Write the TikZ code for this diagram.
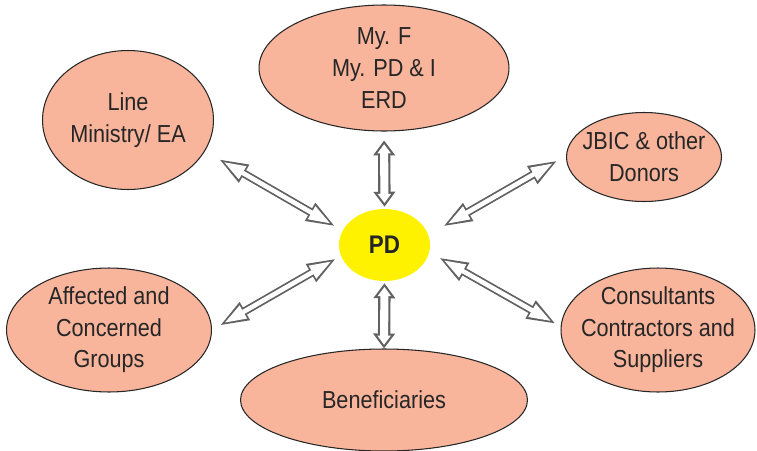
\documentclass[tikz,border=0pt]{standalone}
\usepackage{fontspec}
\setmainfont[FakeStretch=0.88]{Liberation Sans}
\usetikzlibrary{shapes.geometric,arrows.meta}

\definecolor{salmon}{HTML}{F9B59C}
\definecolor{pdyellow}{HTML}{FFF200}

\tikzset{
  party/.style={ellipse, draw=black!85, line width=0.6pt, fill=salmon, inner sep=-2cm,
    align=center, text=black!85, font=\fontsize{14}{18}\selectfont},
  hub/.style={ellipse, fill=pdyellow, inner sep=-2cm, text=black!85,
    font=\fontsize{14.5}{18}\selectfont\bfseries},
  diagout/.style={line width=4.6pt, black!62,
    {Triangle[length=17pt,width=10.5pt]}-{Triangle[length=17pt,width=10.5pt]}},
  diagin/.style={line width=2.6pt, white,
    {Triangle[length=12.6pt,width=7.8pt]}-{Triangle[length=12.6pt,width=7.8pt]}},
  vertout/.style={line width=7pt, black!62,
    {Triangle[length=8.5pt,width=12pt]}-{Triangle[length=8.5pt,width=12pt]}},
  vertin/.style={line width=4.6pt, white,
    {Triangle[length=5.2pt,width=7.3pt]}-{Triangle[length=5.2pt,width=7.3pt]}},
}

\begin{document}
\begin{tikzpicture}[x=0.02cm, y=-0.02cm]
\useasboundingbox (0,0) rectangle (757,450);

% the parties round the PD
\node[party, minimum width=5cm, minimum height=2.52cm] (myf) at (384,68) {My. F\\My. PD \& I\\ERD};
\node[party, minimum width=3.42cm, minimum height=2.78cm] (line) at (128,120) {Line\\Ministry/ EA};
\node[party, minimum width=3.1cm, minimum height=1.78cm] (jbic) at (644,157) {JBIC \& other\\Donors};
\node[party, minimum width=4.1cm, minimum height=2.48cm] (affected) at (109,330) {Affected and\\Concerned\\Groups};
\node[party, minimum width=3.88cm, minimum height=2.48cm] (consult) at (658,330) {Consultants\\Contractors and\\Suppliers};
\node[party, minimum width=5.74cm, minimum height=2.04cm] (benef) at (384,400) {Beneficiaries};

\node[hub, minimum width=1.82cm, minimum height=1.44cm] (pd) at (384.5,245) {PD};

% links
\draw[vertout, shorten <=5.1pt, shorten >=1.1pt] (myf.south) -- (pd.north);
\draw[vertin, shorten <=7.2pt, shorten >=3.2pt] (myf.south) -- (pd.north);
\draw[vertout, shorten <=1.1pt, shorten >=0pt] (pd.south) -- (benef.north);
\draw[vertin, shorten <=3.2pt, shorten >=2.1pt] (pd.south) -- (benef.north);

\draw[diagout, shorten <=8.7pt, shorten >=4.3pt] (line.-22) -- (pd.161);
\draw[diagin, shorten <=12.1pt, shorten >=7.7pt] (line.-22) -- (pd.161);
\draw[diagout, shorten <=5.2pt, shorten >=9.1pt] (jbic.179) -- (pd.13);
\draw[diagin, shorten <=8.6pt, shorten >=12.5pt] (jbic.179) -- (pd.13);
\draw[diagout, shorten <=4.6pt, shorten >=2.6pt] (affected.0) -- (pd.-166);
\draw[diagin, shorten <=8pt, shorten >=6pt] (affected.0) -- (pd.-166);
\draw[diagout, shorten <=2.7pt, shorten >=5.8pt] (consult.178.5) -- (pd.-9);
\draw[diagin, shorten <=6.1pt, shorten >=9.2pt] (consult.178.5) -- (pd.-9);
\end{tikzpicture}
\end{document}
